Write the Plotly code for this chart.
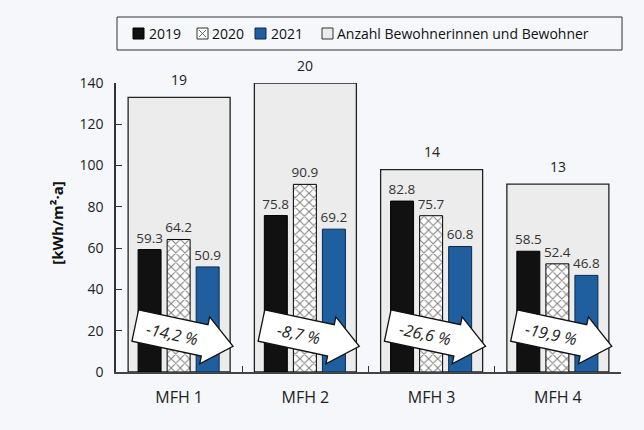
import math
import plotly.graph_objects as go

categories = ["MFH 1", "MFH 2", "MFH 3", "MFH 4"]
v2019 = [59.3, 75.8, 82.8, 58.5]
v2020 = [64.2, 90.9, 75.7, 52.4]
v2021 = [50.9, 69.2, 60.8, 46.8]
residents = [19, 20, 14, 13]
change_labels = ["-14,2 %", "-8,7 %", "-26,6 %", "-19,9 %"]
legend_labels = ["2019", "2020", "2021", "Anzahl Bewohnerinnen und Bewohner"]
y_ticks = [0, 20, 40, 60, 80, 100, 120, 140]
y_title = "[kWh/m²·a]"

FONT = "Open Sans"
BG = "#f5f7fa"
BLUE = "#1f5f9f"
GREY = "#ececec"
DARK = "#222222"

fig = go.Figure()

# residents (background bars) on hidden axis y
fig.add_trace(go.Bar(
    x=categories, y=residents, yaxis="y", width=0.808,
    marker=dict(color=GREY, line=dict(color=DARK, width=1.3)),
    showlegend=False, hoverinfo="skip"))

bw = 0.182
common = dict(yaxis="y2", width=bw, textposition="outside", cliponaxis=False,
              constraintext="none",
              textfont=dict(family=FONT, size=13.5, color="#333333"), showlegend=False)
fig.add_trace(go.Bar(x=categories, y=v2019, offset=-0.325, text=[f"{v:.1f}" for v in v2019],
                     marker=dict(color="#111111", line=dict(color="#000000", width=1)), **common))
fig.add_trace(go.Bar(x=categories, y=v2020, offset=-0.095, text=[f"{v:.1f}" for v in v2020],
                     marker=dict(color="white", line=dict(color="#000000", width=1),
                                 pattern=dict(shape="x", fgcolor="#000000", bgcolor="white",
                                              size=6.5, solidity=0.3)), **common))
fig.add_trace(go.Bar(x=categories, y=v2021, offset=0.135, text=[f"{v:.1f}" for v in v2021],
                     marker=dict(color=BLUE, line=dict(color="#0a2a4a", width=1)), **common))

shapes = []
annotations = []

# resident count labels
for c, r in zip(categories, residents):
    annotations.append(dict(x=c, y=r, xref="x", yref="y", text=str(r), showarrow=False,
                            yshift=18, font=dict(family=FONT, size=14, color="#222222")))

# block arrows with percentage change
theta = math.radians(-12)
L, h, H, head = 100, 16, 24, 29
local = [(-L/2, h), (L/2-head, h), (L/2-head, H), (L/2, 0),
         (L/2-head, -H), (L/2-head, -h), (-L/2, -h)]
mx, my = 5, 36
pts = []
for u, v in local:
    x = u*math.cos(theta) - v*math.sin(theta) + mx
    y = u*math.sin(theta) + v*math.cos(theta) + my
    pts.append((x, y))
path = "M " + " L ".join(f"{x:.2f},{y:.2f}" for x, y in pts) + " Z"
n = len(categories)
for i, (c, lab) in enumerate(zip(categories, change_labels)):
    shapes.append(dict(type="path", xref="paper", yref="y2", xsizemode="pixel", ysizemode="pixel",
                       xanchor=(i+0.5)/n, yanchor=0, path=path, fillcolor="white",
                       line=dict(color="#111111", width=1.3), layer="above"))
    annotations.append(dict(x=c, y=0, xref="x", yref="y2", text=lab, showarrow=False,
                            xshift=-7, yshift=38, textangle=12,
                            font=dict(family=FONT, size=16, color="#222222", style="italic")))

# y-axis title
annotations.append(dict(x=-0.117, y=0.516, xref="paper", yref="paper", text=y_title,
                        textangle=-90, showarrow=False, xanchor="center", yanchor="middle",
                        font=dict(family=FONT, size=15, color="#111111", weight=700)))

# manual legend
shapes.append(dict(type="rect", xref="paper", yref="paper", xsizemode="pixel", ysizemode="pixel",
                   xanchor=0, yanchor=1, x0=1, x1=506, y0=33, y1=66,
                   line=dict(color="#333333", width=1), fillcolor="rgba(0,0,0,0)"))
icon_x = [17, 81, 139, 206]
text_x = [31, 94, 153, 219]
icon_fill = ["#111111", "white", BLUE, GREY]
icon_line = ["#000000", "#333333", "#0a2a4a", "#333333"]
for ix, tx, lab, f, lc in zip(icon_x, text_x, legend_labels, icon_fill, icon_line):
    shapes.append(dict(type="rect", xref="paper", yref="paper", xsizemode="pixel", ysizemode="pixel",
                       xanchor=0, yanchor=1, x0=ix, x1=ix+11, y0=44, y1=55,
                       fillcolor=f, line=dict(color=lc, width=1)))
    annotations.append(dict(x=0, y=1, xref="paper", yref="paper", xshift=tx, yshift=49.5,
                            xanchor="left", yanchor="middle", text=lab, showarrow=False,
                            font=dict(family=FONT, size=14, color="#111111")))
# hatch marks in 2020 icon
ix = icon_x[1]
shapes.append(dict(type="path", xref="paper", yref="paper", xsizemode="pixel", ysizemode="pixel",
                   xanchor=0, yanchor=1,
                   path=f"M {ix+2},{46} L {ix+9},{53} M {ix+2},{53} L {ix+9},{46}",
                   line=dict(color="#444444", width=0.8)))

fig.update_layout(
    width=644, height=430,
    margin=dict(l=116, r=23, t=83, b=58),
    paper_bgcolor=BG, plot_bgcolor=BG,
    barmode="overlay",
    font=dict(family=FONT, color="#222222"),
    xaxis=dict(type="category", range=[-0.5, 3.5], tickson="boundaries", ticks="inside", ticklen=6,
               tickcolor="#333333", showline=True, linecolor="#444444", linewidth=2,
               ticklabelstandoff=10,
               tickfont=dict(family=FONT, size=16, color="#222222"), showgrid=False),
    yaxis=dict(range=[0, 20], visible=False, fixedrange=True),
    yaxis2=dict(range=[0, 140], overlaying="y", side="left", tickvals=y_ticks, ticks="inside",
                ticklen=6, tickcolor="#333333", showline=True, linecolor="#333333", linewidth=1.5,
                showgrid=False, zeroline=False, ticklabelstandoff=8,
                tickfont=dict(family=FONT, size=14, color="#222222")),
    shapes=shapes, annotations=annotations,
)

fig.write_html("out.html")
